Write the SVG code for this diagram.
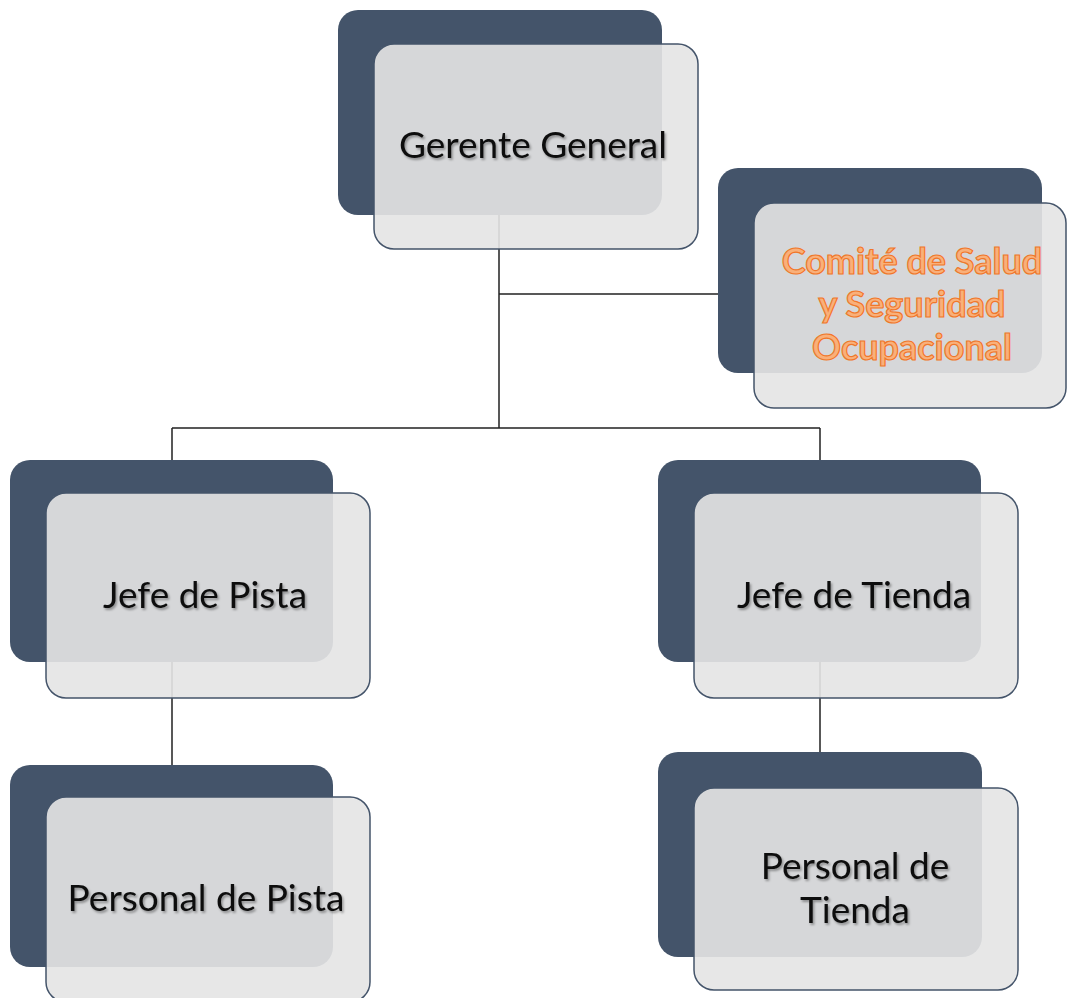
<svg xmlns="http://www.w3.org/2000/svg" width="1068" height="998" viewBox="0 0 1068 998">
<defs>
<filter id="sh" x="-10%" y="-20%" width="120%" height="150%">
<feDropShadow dx="1.5" dy="2" stdDeviation="1.2" flood-color="#000" flood-opacity="0.35"/>
</filter>
</defs>
<style>
.back{fill:#44546a;}
.front{fill:#e5e5e5;fill-opacity:0.91;stroke:#44546a;stroke-width:1.5;}
.lbl{font-family:Lato,"Open Sans","Liberation Sans",sans-serif;font-size:37px;fill:#111;text-anchor:middle;filter:url(#sh);}
.org{font-family:Lato,"Open Sans","Liberation Sans",sans-serif;font-size:36px;font-weight:bold;fill:#f9b07a;stroke:#f0772a;stroke-width:1.2;text-anchor:middle;}
.con{fill:none;stroke:#222;stroke-width:1.5;}
</style>
<rect width="1068" height="998" fill="#fff"/>
<g id="connectors">
<path class="con" d="M499 215V428M499 294H718M172 428H820M172 428V460M820 428V460M172 662V765M820 662V752"/>
</g>
<g id="gerente">
<rect class="back" x="338" y="10" width="324" height="205" rx="20"/>
<rect class="front" x="374" y="44" width="324" height="205" rx="20"/>
<text class="lbl" x="533" y="158">Gerente General</text>
</g>
<g id="comite">
<rect class="back" x="718" y="168" width="324" height="205" rx="20"/>
<rect class="front" x="754" y="203" width="312" height="205" rx="20"/>
<text class="org" x="912" y="274">Comité de Salud</text>
<text class="org" x="912" y="317">y Seguridad</text>
<text class="org" x="912" y="360">Ocupacional</text>
</g>
<g id="jefe-pista">
<rect class="back" x="10" y="460" width="323" height="202" rx="20"/>
<rect class="front" x="46" y="493" width="324" height="205" rx="20"/>
<text class="lbl" x="205" y="608">Jefe de Pista</text>
</g>
<g id="jefe-tienda">
<rect class="back" x="658" y="460" width="323" height="202" rx="20"/>
<rect class="front" x="694" y="493" width="324" height="205" rx="20"/>
<text class="lbl" x="854" y="608">Jefe de Tienda</text>
</g>
<g id="personal-pista">
<rect class="back" x="10" y="765" width="323" height="202" rx="20"/>
<rect class="front" x="46" y="797" width="324" height="205" rx="20"/>
<text class="lbl" x="206" y="911">Personal de Pista</text>
</g>
<g id="personal-tienda">
<rect class="back" x="658" y="752" width="324" height="205" rx="20"/>
<rect class="front" x="694" y="788" width="324" height="202" rx="20"/>
<text class="lbl" x="855" y="879">Personal de</text>
<text class="lbl" x="855" y="923">Tienda</text>
</g>
</svg>
